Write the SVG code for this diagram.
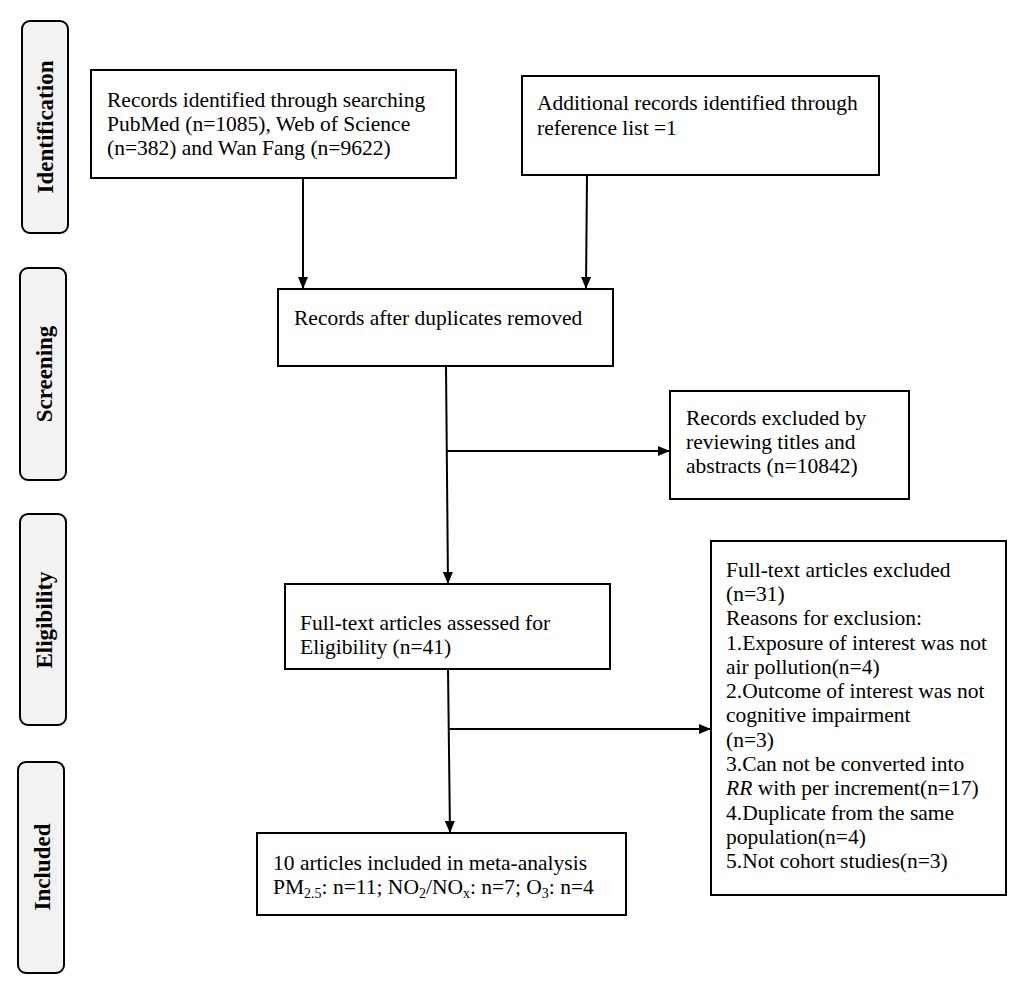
<svg xmlns="http://www.w3.org/2000/svg" width="1024" height="988" viewBox="0 0 1024 988">
<style>
.box{fill:#fff;stroke:#000;stroke-width:2}
.side{fill:#f2f2f2;stroke:#000;stroke-width:2}
.t{font-family:"Liberation Serif","Times New Roman",serif;font-size:21.5px;fill:#000}
.s{font-family:"Liberation Serif","Times New Roman",serif;font-size:23px;font-weight:bold;fill:#000}
.ln{stroke:#000;stroke-width:2;fill:none}
</style>
<defs>
<marker id="ah" markerWidth="12" markerHeight="10" refX="12" refY="5" orient="auto" markerUnits="userSpaceOnUse">
<path d="M0,0 L12,5 L0,10 Z" fill="#000"/>
</marker>
</defs>
<rect width="1024" height="988" fill="#fff"/>
<g id="stage-identification">
<rect class="side" x="22" y="21" width="46" height="212" rx="8"/>
<text class="s" transform="translate(53,127) rotate(-90)" text-anchor="middle">Identification</text>
</g>
<g id="stage-screening">
<rect class="side" x="20" y="268" width="46" height="212" rx="8"/>
<text class="s" transform="translate(52,374) rotate(-90)" text-anchor="middle">Screening</text>
</g>
<g id="stage-eligibility">
<rect class="side" x="20" y="514" width="46" height="211" rx="8"/>
<text class="s" transform="translate(52,620) rotate(-90)" text-anchor="middle">Eligibility</text>
</g>
<g id="stage-included">
<rect class="side" x="18" y="762" width="46" height="211" rx="8"/>
<text class="s" transform="translate(50,867) rotate(-90)" text-anchor="middle">Included</text>
</g>
<g id="connectors">
<line class="ln" x1="303" y1="178" x2="303" y2="289" marker-end="url(#ah)"/>
<line class="ln" x1="587" y1="175" x2="586" y2="289" marker-end="url(#ah)"/>
<line class="ln" x1="446" y1="366" x2="448" y2="584" marker-end="url(#ah)"/>
<line class="ln" x1="447" y1="451" x2="670" y2="451" marker-end="url(#ah)"/>
<line class="ln" x1="448" y1="669" x2="450" y2="833" marker-end="url(#ah)"/>
<line class="ln" x1="448" y1="729" x2="711" y2="729" marker-end="url(#ah)"/>
</g>
<g id="node-records-identified">
<rect class="box" x="91" y="70" width="365" height="108"/>
<text class="t"><tspan x="107" y="107">Records identified through searching</tspan><tspan x="107" y="131">PubMed (n=1085), Web of Science</tspan><tspan x="107" y="155">(n=382) and Wan Fang (n=9622)</tspan></text>
</g>
<g id="node-additional-records">
<rect class="box" x="522" y="76" width="357" height="99"/>
<text class="t"><tspan x="537" y="110">Additional records identified through</tspan><tspan x="537" y="135">reference list =1</tspan></text>
</g>
<g id="node-after-duplicates">
<rect class="box" x="278" y="289" width="335" height="77"/>
<text class="t" x="294" y="325">Records after duplicates removed</text>
</g>
<g id="node-excluded-titles">
<rect class="box" x="670" y="391" width="239" height="108"/>
<text class="t"><tspan x="686" y="425">Records excluded by</tspan><tspan x="686" y="449">reviewing titles and</tspan><tspan x="686" y="473">abstracts (n=10842)</tspan></text>
</g>
<g id="node-full-text">
<rect class="box" x="285" y="584" width="325" height="85"/>
<text class="t"><tspan x="300" y="630">Full-text articles assessed for</tspan><tspan x="300" y="654">Eligibility (n=41)</tspan></text>
</g>
<g id="node-full-text-excluded">
<rect class="box" x="711" y="541" width="295" height="354"/>
<text class="t"><tspan x="726" y="577">Full-text articles excluded</tspan><tspan x="726" y="601">(n=31)</tspan><tspan x="726" y="625">Reasons for exclusion:</tspan><tspan x="726" y="650">1.Exposure of interest was not</tspan><tspan x="726" y="674">air pollution(n=4)</tspan><tspan x="726" y="698">2.Outcome of interest was not</tspan><tspan x="726" y="722">cognitive impairment</tspan><tspan x="726" y="747">(n=3)</tspan><tspan x="726" y="771">3.Can not be converted into</tspan><tspan x="726" y="795"><tspan font-style="italic">RR</tspan> with per increment(n=17)</tspan><tspan x="726" y="820">4.Duplicate from the same</tspan><tspan x="726" y="844">population(n=4)</tspan><tspan x="726" y="868">5.Not cohort studies(n=3)</tspan></text>
</g>
<g id="node-included">
<rect class="box" x="257" y="833" width="369" height="82"/>
<text class="t"><tspan x="273" y="870">10 articles included in meta-analysis</tspan><tspan x="273" y="894">PM<tspan font-size="14" dy="4">2.5</tspan><tspan dy="-4">: n=11; NO</tspan><tspan font-size="14" dy="4">2</tspan><tspan dy="-4">/NO</tspan><tspan font-size="14" dy="4">x</tspan><tspan dy="-4">: n=7; O</tspan><tspan font-size="14" dy="4">3</tspan><tspan dy="-4">: n=4</tspan></tspan></text>
</g>
</svg>
